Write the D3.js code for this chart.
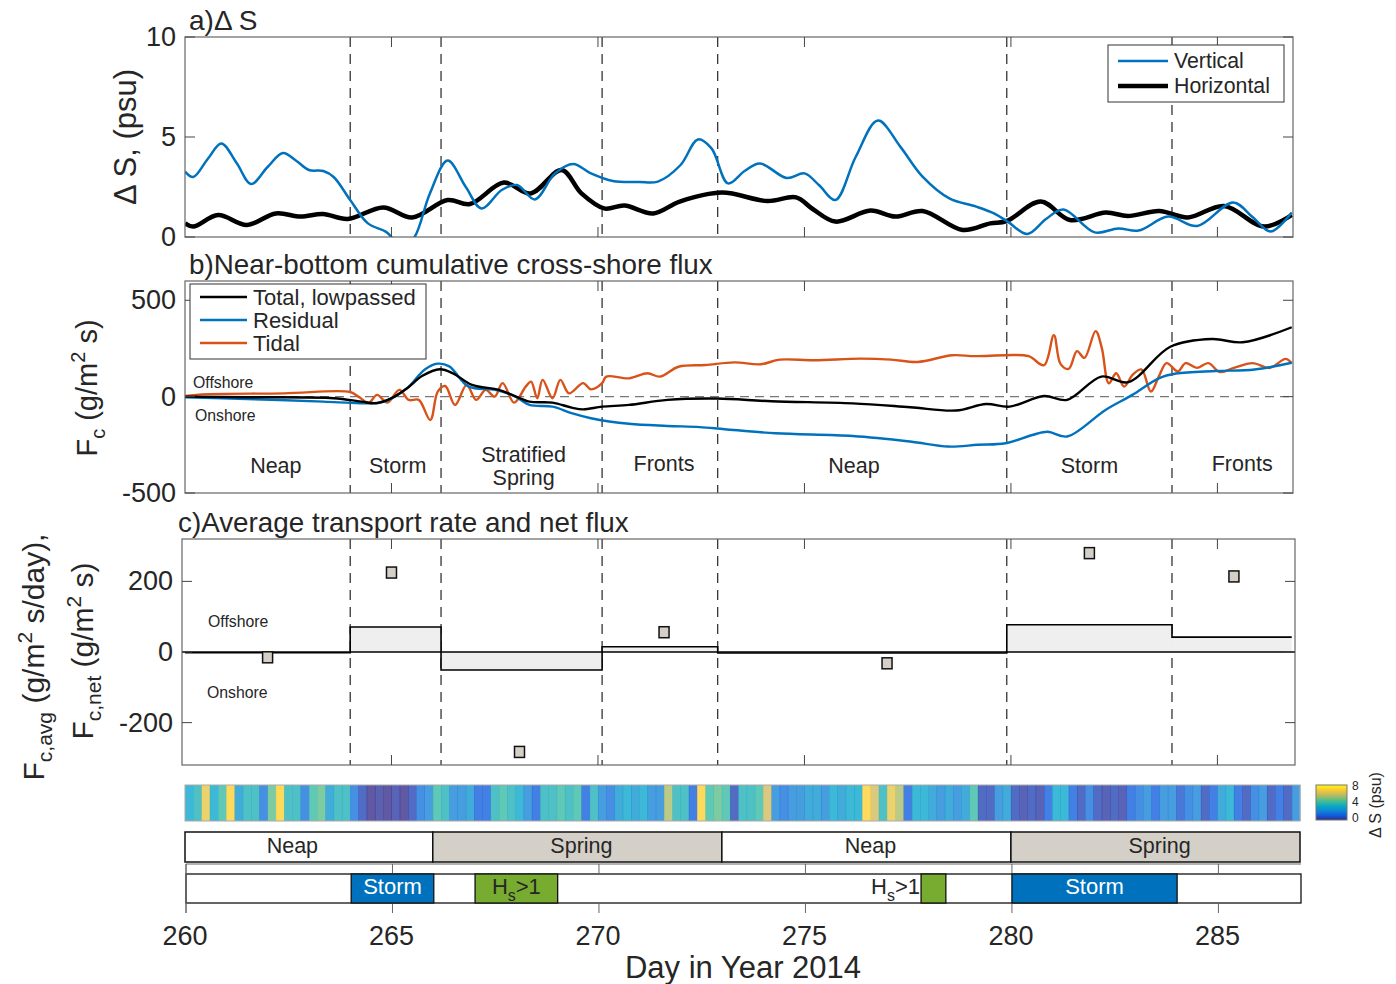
<!DOCTYPE html>
<html>
<head>
<meta charset="utf-8">
<script src="https://cdn.jsdelivr.net/npm/d3@7"></script>
<style>
body { margin: 0; background: #fff; }
text { font-family: "Liberation Sans", Arial, Helvetica, sans-serif; fill: #262626; }
</style>
</head>
<body>
<svg width="1396" height="984"></svg>
<script>
// ---- data ----
// a) Delta S
var vertDays = [260.0, 260.2, 260.55, 260.88, 261.25, 261.6, 262.0, 262.37, 262.7, 263.0, 263.35, 263.6, 264.0, 264.43, 264.86, 265.0, 265.25, 265.56, 265.93, 266.36, 266.8, 267.18, 267.67, 268.04, 268.47, 268.96, 269.4, 269.83, 270.36, 271.0, 271.45, 272.0, 272.42, 272.75, 273.15, 273.55, 273.92, 274.57, 275.0, 275.35, 275.75, 276.24, 276.78, 277.32, 277.86, 278.51, 279.16, 279.59, 279.92, 280.4, 280.85, 281.27, 282.03, 282.6, 283.09, 283.81, 284.51, 285.38, 285.85, 286.29, 286.8];
var vertVals = [3.27, 3.0, 3.9, 4.68, 3.7, 2.65, 3.5, 4.2, 3.8, 3.35, 3.3, 3.0, 1.85, 0.68, 0.27, 0.0, -0.6, 0.0, 2.18, 3.82, 2.5, 1.43, 2.35, 2.6, 1.88, 3.18, 3.65, 3.18, 2.8, 2.75, 2.77, 3.6, 4.88, 4.43, 2.68, 3.3, 3.68, 2.95, 3.18, 2.6, 1.85, 4.0, 5.82, 4.52, 3.02, 1.93, 1.52, 1.18, 0.77, 0.15, 0.9, 1.38, 0.23, 0.43, 0.32, 1.02, 0.55, 1.73, 1.0, 0.27, 1.23];
var horizDays = [260.0, 260.2, 260.8, 261.5, 262.2, 262.8, 263.34, 263.94, 264.8, 265.5, 266.36, 266.9, 267.72, 268.37, 269.12, 269.6, 270.15, 270.64, 271.34, 271.98, 273.0, 274.1, 274.8, 275.2, 275.75, 276.6, 277.2, 277.86, 278.83, 279.5, 279.9, 280.72, 281.43, 282.3, 282.83, 283.59, 284.29, 285.16, 286.13, 286.8];
var horizVals = [0.68, 0.52, 1.1, 0.6, 1.18, 1.02, 1.15, 0.9, 1.48, 0.98, 1.85, 1.65, 2.72, 2.18, 3.35, 2.18, 1.43, 1.57, 1.18, 1.77, 2.22, 1.8, 1.98, 1.4, 0.77, 1.32, 1.02, 1.3, 0.35, 0.68, 0.8, 1.77, 0.85, 1.22, 1.05, 1.3, 0.98, 1.55, 0.52, 1.1];

// b) cumulative flux
var totalDays = [260, 261.5, 263.6, 264.27, 264.64, 265.0, 265.38, 265.75, 266.17, 266.49, 266.95, 267.6, 267.97, 268.34, 268.9, 269.36, 269.64, 270.1, 270.75, 271.68, 272.88, 274.2, 276.17, 277.56, 278.67, 279.4, 279.97, 280.8, 281.36, 282.19, 282.84, 283.86, 284.87, 285.61, 286.8];
var totalVals = [0, -3, -8, -26, -34, -8, 44, 108, 142, 121, 61, 35, 4, -26, -31, -57, -66, -52, -43, -17, -10, -24, -35, -55, -72, -38, -52, 3, -17, 104, 75, 259, 299, 282, 360];
var residDays = [260, 261.5, 263.35, 264.27, 264.82, 265.38, 265.8, 266.12, 266.4, 266.86, 267.51, 267.97, 268.34, 268.9, 269.36, 269.83, 270.75, 271.68, 272.46, 273.07, 274.3, 276.17, 277.56, 278.48, 279.2, 279.87, 280.52, 280.89, 281.36, 282.29, 282.94, 283.58, 284.0, 284.97, 285.9, 286.8];
var residVals = [-3, -12, -26, -34, -26, 44, 140, 171, 157, 53, 35, 4, -43, -52, -86, -112, -141, -152, -158, -169, -190, -204, -233, -259, -250, -242, -199, -182, -207, -69, 9, 95, 120, 133, 141, 176];
var tidalDays = [260, 260.4, 262.4, 264.0, 264.2, 264.45, 264.65, 264.9, 265.19, 265.42, 265.66, 265.94, 266.12, 266.3, 266.54, 266.82, 267.05, 267.28, 267.5, 267.69, 267.97, 268.25, 268.38, 268.53, 268.66, 268.9, 269.09, 269.3, 269.64, 269.83, 270.1, 270.2, 270.75, 271.2, 271.5, 271.95, 272.6, 273.3, 273.94, 274.4, 275.24, 276.35, 277.1, 277.74, 278.58, 279.13, 279.87, 280.43, 280.8, 281.04, 281.2, 281.4, 281.6, 281.78, 282.05, 282.2, 282.37, 282.55, 282.74, 282.95, 283.16, 283.39, 283.58, 283.77, 284.04, 284.23, 284.5, 284.78, 285.06, 285.4, 285.85, 286.27, 286.65, 286.8];
var tidalVals = [3, 12, 17, 24, 0, -31, 9, -31, 35, -17, -17, -121, 26, 55, -43, 61, -17, 35, 0, 70, -31, 52, 78, -8, 87, -8, 87, 17, 70, 38, 70, 104, 95, 121, 104, 155, 164, 178, 168, 192, 189, 197, 192, 180, 215, 210, 215, 210, 163, 319, 170, 144, 236, 201, 340, 253, 69, 121, 52, 114, 141, 26, 104, 174, 131, 174, 149, 174, 128, 149, 174, 149, 196, 174];
var zoneDays = [262.2, 265.15, 268.2, 271.6, 276.2, 281.9, 285.6];
var zoneNames = ["Neap", "Storm", "Stratified\nSpring", "Fronts", "Neap", "Storm", "Fronts"];

// c) average rate and net flux per period
var periodEdges = [260, 264, 266.2, 270.1, 272.9, 279.9, 283.9, 286.8];
var avgRate = [-2, 71, -51, 15, -3, 77, 42];
var netDays = [262.0, 265.0, 268.1, 271.6, 277.0, 281.9, 285.4];
var netFlux = [-15, 225, -283, 56, -32, 280, 214];
var dividers = [264, 266.2, 270.1, 272.9, 279.9, 283.9];

// strip of Delta S, every 0.2 day from 260
var stripStart = 260, stripStep = 0.2;
var stripVals = [3, 3.5, 6.5, 3, 4, 7, 2.5, 3.5, 3.5, 1.5, 4.5, 7, 3.5, 3.5, 1.5, 4, 4.5, 2.5, 3.5, 3.5,
  1.5, 0.5, 0, 0.2, 0, 0.3, 0, 0.5, 1.5, 2, 4, 3.5, 2, 2, 2.5, 1, 1, 3.5, 4, 3.5,
  3, 2, 1, 3.5, 3.5, 4, 3.5, 4, 1, 3.5, 2, 1.5, 2.5, 3, 2.5, 3, 2, 2, 5.5, 3.5,
  3.5, 1, 7, 4, 4.5, 4, 0.5, 3.5, 3.5, 4, 6, 2, 1.5, 2, 2, 2.5, 2.5, 2, 3, 2.5,
  3, 3, 7, 6, 3.5, 6.5, 5.5, 1, 3, 3, 2.5, 2, 2.5, 2, 2.5, 4, 0.5, 0.5, 2, 2.5,
  0.5, 0.3, 0.5, 0.3, 1, 3, 3, 1, 0.5, 1.5, 0.5, 0.3, 0.5, 0.3, 1, 1.5, 2, 1, 2, 2,
  0.8, 1.5, 2, 0.5, 1, 2.5, 3, 1, 0.5, 1.5, 2, 0.5, 1, 0.5, 2];

// tide phase and events bars
var tideEdges = [260, 266, 273, 280, 287];
var tideNames = ["Neap", "Spring", "Neap", "Spring"];
var tideLabelDays = [262.6, 269.6, 276.6, 283.6];
var eventStart = [264, 267, 277.8, 280];
var eventEnd = [266, 269, 278.4, 284];
var eventType = ["Storm", "Hs", "Hs", "Storm"];

var xTickVals = [260, 265, 270, 275, 280, 285];

// ---- drawing ----
var blue = '#0072bd', orange = '#d95319', gray = '#d4d0c8';
var svg = d3.select('svg');
var x = d3.scaleLinear().domain([260, 287]).range([185, 1300]);

var parula = d3.scaleLinear()
  .domain([0, 0.125, 0.25, 0.375, 0.5, 0.625, 0.75, 0.875, 1])
  .range(['#352a87', '#0f5cdd', '#1481d6', '#06a4ca', '#33b8a1', '#7ebf71', '#d1bb59', '#fcce2e', '#f9fb0e']);
var cmap = function(v) { return parula(Math.max(0, Math.min(1, v / 8))); };

function frame(top, bottom, left, right, y, yTicks, id) {
  var g = svg.append('g');
  g.append('clipPath').attr('id', id).append('rect')
    .attr('x', left).attr('y', top).attr('width', right - left).attr('height', bottom - top);
  // dashed dividers
  g.selectAll('.div').data(dividers).enter().append('line')
    .attr('x1', function(d) { return x(d); }).attr('x2', function(d) { return x(d); })
    .attr('y1', top).attr('y2', bottom)
    .attr('stroke', '#111').attr('stroke-width', 1.1).attr('stroke-dasharray', '10,7');
  var ax = svg.append('g');
  ax.append('rect').attr('x', left).attr('y', top).attr('width', right - left).attr('height', bottom - top)
    .attr('fill', 'none').attr('stroke', '#666').attr('stroke-width', 1.2);
  xTickVals.slice(1).forEach(function(t) {
    ax.append('line').attr('x1', x(t)).attr('x2', x(t)).attr('y1', top).attr('y2', top + 10).attr('stroke', '#444');
    ax.append('line').attr('x1', x(t)).attr('x2', x(t)).attr('y1', bottom).attr('y2', bottom - 10).attr('stroke', '#444');
  });
  yTicks.forEach(function(t) {
    ax.append('line').attr('x1', left).attr('x2', left + 10).attr('y1', y(t)).attr('y2', y(t)).attr('stroke', '#444');
    ax.append('line').attr('x1', right).attr('x2', right - 10).attr('y1', y(t)).attr('y2', y(t)).attr('stroke', '#444');
    ax.append('text').attr('x', left - 9).attr('y', y(t)).attr('text-anchor', 'end')
      .attr('dominant-baseline', 'central').attr('font-size', 27).text(t);
  });
  return { g: g, ax: ax };
}

function lineOf(days, vals, y) {
  var pts = days.map(function(d, i) { return [d, vals[i]]; });
  return d3.line().x(function(p) { return x(p[0]); }).y(function(p) { return y(p[1]); })
    .curve(d3.curveCatmullRom.alpha(0.5))(pts);
}

// ---------- panel a ----------
var ya = d3.scaleLinear().domain([0, 10]).range([237, 37]);
var pa = frame(37, 237, 185, 1293, ya, [0, 5, 10], 'clipA');
pa.g.append('path').attr('d', lineOf(horizDays, horizVals, ya)).attr('clip-path', 'url(#clipA)')
  .attr('fill', 'none').attr('stroke', '#000').attr('stroke-width', 4.5);
pa.g.append('path').attr('d', lineOf(vertDays, vertVals, ya)).attr('clip-path', 'url(#clipA)')
  .attr('fill', 'none').attr('stroke', blue).attr('stroke-width', 2.5);
svg.append('text').attr('x', 189).attr('y', 30).attr('font-size', 28).text('a)\u0394 S');
svg.append('text').attr('transform', 'translate(136,137) rotate(-90)').attr('text-anchor', 'middle')
  .attr('font-size', 31).text('\u0394 S, (psu)');
var lega = svg.append('g');
lega.append('rect').attr('x', 1108).attr('y', 45).attr('width', 176).attr('height', 57)
  .attr('fill', '#fff').attr('stroke', '#333');
lega.append('line').attr('x1', 1118).attr('x2', 1168).attr('y1', 61).attr('y2', 61).attr('stroke', blue).attr('stroke-width', 2.5);
lega.append('line').attr('x1', 1118).attr('x2', 1168).attr('y1', 86).attr('y2', 86).attr('stroke', '#000').attr('stroke-width', 4.5);
lega.append('text').attr('x', 1174).attr('y', 61).attr('dominant-baseline', 'central').attr('font-size', 21.3).text('Vertical');
lega.append('text').attr('x', 1174).attr('y', 86).attr('dominant-baseline', 'central').attr('font-size', 21.3).text('Horizontal');

// ---------- panel b ----------
var yb = d3.scaleLinear().domain([-500, 600]).range([493, 281]);
var pb = frame(281, 493, 185, 1293, yb, [-500, 0, 500], 'clipB');
pb.g.append('line').attr('x1', 185).attr('x2', 1293).attr('y1', yb(0)).attr('y2', yb(0))
  .attr('stroke', '#777').attr('stroke-width', 1.3).attr('stroke-dasharray', '9,6');
pb.g.append('path').attr('d', lineOf(tidalDays, tidalVals, yb)).attr('clip-path', 'url(#clipB)')
  .attr('fill', 'none').attr('stroke', orange).attr('stroke-width', 2.4);
pb.g.append('path').attr('d', lineOf(residDays, residVals, yb)).attr('clip-path', 'url(#clipB)')
  .attr('fill', 'none').attr('stroke', blue).attr('stroke-width', 2.4);
pb.g.append('path').attr('d', lineOf(totalDays, totalVals, yb)).attr('clip-path', 'url(#clipB)')
  .attr('fill', 'none').attr('stroke', '#000').attr('stroke-width', 2.4);
svg.append('text').attr('x', 189).attr('y', 274).attr('font-size', 27.8).text('b)Near-bottom cumulative cross-shore flux');
svg.append('text').attr('x', 193).attr('y', 382).attr('dominant-baseline', 'central').attr('font-size', 15.8).text('Offshore');
svg.append('text').attr('x', 195).attr('y', 415).attr('dominant-baseline', 'central').attr('font-size', 15.8).text('Onshore');
zoneDays.forEach(function(d, i) {
  var lines = zoneNames[i].split('\n');
  var base = lines.length > 1 ? 462 : (zoneNames[i] === 'Fronts' ? 471 : 473);
  lines.forEach(function(s, j) {
    svg.append('text').attr('x', x(d)).attr('y', base + j * 23).attr('text-anchor', 'middle')
      .attr('font-size', 21.5).text(s);
  });
});
var ylb = svg.append('text').attr('transform', 'translate(97,388) rotate(-90)').attr('text-anchor', 'middle').attr('font-size', 29);
ylb.append('tspan').text('F');
ylb.append('tspan').attr('font-size', 20).attr('dy', 8).text('c');
ylb.append('tspan').attr('dy', -8).text(' (g/m');
ylb.append('tspan').attr('font-size', 20).attr('dy', -12).text('2');
ylb.append('tspan').attr('dy', 12).text(' s)');
var legb = svg.append('g');
legb.append('rect').attr('x', 190).attr('y', 284).attr('width', 236).attr('height', 75).attr('fill', '#fff').attr('stroke', '#333');
[['Total, lowpassed', '#000'], ['Residual', blue], ['Tidal', orange]].forEach(function(e, i) {
  var yy = 297 + i * 23;
  legb.append('line').attr('x1', 200).attr('x2', 247).attr('y1', yy).attr('y2', yy).attr('stroke', e[1]).attr('stroke-width', 2.4);
  legb.append('text').attr('x', 253).attr('y', yy).attr('dominant-baseline', 'central').attr('font-size', 22).text(e[0]);
});

// ---------- panel c ----------
var yc = d3.scaleLinear().domain([-320, 320]).range([765, 539]);
var pc = frame(539, 765, 182, 1295, yc, [-200, 0, 200], 'clipC');
var steps = avgRate.map(function(v, i) { return { a: periodEdges[i], b: periodEdges[i + 1], v: v }; });
pc.g.selectAll('.bar').data(steps).enter().append('rect')
  .attr('x', function(d) { return x(d.a); })
  .attr('width', function(d) { return x(d.b) - x(d.a); })
  .attr('y', function(d) { return Math.min(yc(d.v), yc(0)); })
  .attr('height', function(d) { return Math.abs(yc(d.v) - yc(0)); })
  .attr('fill', '#efefef');
var stairPts = steps.map(function(d) { return [d.a, d.v]; });
stairPts.push([periodEdges[periodEdges.length - 1], avgRate[avgRate.length - 1]]);
pc.g.append('path').attr('fill', 'none').attr('stroke', '#000').attr('stroke-width', 1.6)
  .attr('d', d3.line().x(function(p) { return x(p[0]); }).y(function(p) { return yc(p[1]); })
    .curve(d3.curveStepAfter)(stairPts));
pc.g.append('line').attr('x1', 182).attr('x2', 1295).attr('y1', yc(0)).attr('y2', yc(0)).attr('stroke', '#000').attr('stroke-width', 1.3);
pc.g.selectAll('.net').data(netDays).enter().append('rect')
  .attr('x', function(d) { return x(d) - 5; })
  .attr('y', function(d, i) { return yc(netFlux[i]) - 5.5; })
  .attr('width', 10).attr('height', 11)
  .attr('fill', gray).attr('stroke', '#111').attr('stroke-width', 1.5);
svg.append('text').attr('x', 178).attr('y', 532).attr('font-size', 27.8).text('c)Average transport rate and net flux');
svg.append('text').attr('x', 208).attr('y', 621).attr('dominant-baseline', 'central').attr('font-size', 15.8).text('Offshore');
svg.append('text').attr('x', 207).attr('y', 692).attr('dominant-baseline', 'central').attr('font-size', 15.8).text('Onshore');
function ylabC(xp, yp, sub, unit) {
  var t = svg.append('text').attr('transform', 'translate(' + xp + ',' + yp + ') rotate(-90)').attr('text-anchor', 'middle').attr('font-size', 30);
  t.append('tspan').text('F');
  t.append('tspan').attr('font-size', 21).attr('dy', 8).text(sub);
  t.append('tspan').attr('dy', -8).text(' (g/m');
  t.append('tspan').attr('font-size', 21).attr('dy', -12).text('2');
  t.append('tspan').attr('dy', 12).text(unit);
}
ylabC(44, 657, 'c,avg', '  s/day),');
ylabC(93, 651, 'c,net', ' s)');

// ---------- Delta S strip ----------
var strip = svg.append('g');
strip.selectAll('rect').data(stripVals).enter().append('rect')
  .attr('x', function(d, i) { return x(stripStart + i * stripStep); })
  .attr('width', function(d, i) { return x(stripStart + (i + 1) * stripStep) - x(stripStart + i * stripStep) + 0.5; })
  .attr('y', 785).attr('height', 36)
  .attr('fill', function(d) { return cmap(d); }).attr('opacity', 0.78);
strip.append('rect').attr('x', 185).attr('y', 785).attr('width', x(287) - 185).attr('height', 36)
  .attr('fill', 'none').attr('stroke', '#aaa');

// colorbar
var grad = svg.append('defs').append('linearGradient').attr('id', 'cb')
  .attr('x1', 0).attr('x2', 0).attr('y1', 1).attr('y2', 0);
d3.range(0, 1.0001, 0.125).forEach(function(t) {
  grad.append('stop').attr('offset', t).attr('stop-color', parula(t));
});
svg.append('rect').attr('x', 1316).attr('y', 785).attr('width', 31).attr('height', 35)
  .attr('fill', 'url(#cb)').attr('stroke', '#777');
[[8, 786], [4, 802], [0, 818]].forEach(function(p) {
  svg.append('text').attr('x', 1352).attr('y', p[1]).attr('dominant-baseline', 'central').attr('font-size', 12).text(p[0]);
});
svg.append('text').attr('transform', 'translate(1381,805) rotate(-90)').attr('text-anchor', 'middle')
  .attr('font-size', 16).text('\u0394 S (psu)');

// ---------- tide phase bar ----------
var tide = svg.append('g');
tideNames.forEach(function(n, i) {
  tide.append('rect').attr('x', x(tideEdges[i])).attr('y', 832)
    .attr('width', x(tideEdges[i + 1]) - x(tideEdges[i])).attr('height', 30)
    .attr('fill', n === 'Spring' ? gray : '#fff').attr('stroke', '#111').attr('stroke-width', 1.5);
  tide.append('text').attr('x', x(tideLabelDays[i])).attr('y', 846).attr('text-anchor', 'middle')
    .attr('dominant-baseline', 'central').attr('font-size', 21.5).text(n);
});

// ---------- events bar ----------
var ev = svg.append('g');
ev.append('rect').attr('x', x(260) + 1).attr('y', 874).attr('width', x(287) - x(260)).attr('height', 29)
  .attr('fill', '#fff').attr('stroke', '#111').attr('stroke-width', 1.3);
ev.append('line').attr('x1', x(260) + 1).attr('x2', x(287) + 1).attr('y1', 864).attr('y2', 864).attr('stroke', '#666');
ev.append('line').attr('x1', x(260) + 1).attr('x2', x(260) + 1).attr('y1', 864).attr('y2', 913).attr('stroke', '#666');
xTickVals.forEach(function(t) {
  ev.append('line').attr('x1', x(t) + 1).attr('x2', x(t) + 1).attr('y1', 864).attr('y2', 874).attr('stroke', '#666');
  ev.append('line').attr('x1', x(t) + 1).attr('x2', x(t) + 1).attr('y1', 903).attr('y2', 913).attr('stroke', '#666');
  svg.append('text').attr('x', x(t)).attr('y', 936).attr('text-anchor', 'middle')
    .attr('dominant-baseline', 'central').attr('font-size', 27).text(t);
});
eventStart.forEach(function(s, i) {
  var isStorm = eventType[i] === 'Storm';
  ev.append('rect').attr('x', x(s) + 1).attr('y', 874).attr('width', x(eventEnd[i]) - x(s)).attr('height', 29)
    .attr('fill', isStorm ? blue : '#77ac30').attr('stroke', '#111').attr('stroke-width', 1.3);
  var wide = x(eventEnd[i]) - x(s) > 40;
  var t = ev.append('text').attr('y', 886).attr('dominant-baseline', 'central').attr('font-size', 22)
    .attr('text-anchor', wide ? 'middle' : 'end')
    .attr('x', wide ? (x(s) + x(eventEnd[i])) / 2 + 1 : x(s));
  if (isStorm) {
    t.style('fill', '#fff').text('Storm');
  } else {
    t.append('tspan').text('H');
    t.append('tspan').attr('font-size', 16).attr('dy', 9).text('s');
    t.append('tspan').attr('dy', -9).text('>1');
  }
});

svg.append('text').attr('x', 743).attr('y', 967).attr('text-anchor', 'middle')
  .attr('dominant-baseline', 'central').attr('font-size', 31).text('Day in Year 2014');
</script>
</body>
</html>
